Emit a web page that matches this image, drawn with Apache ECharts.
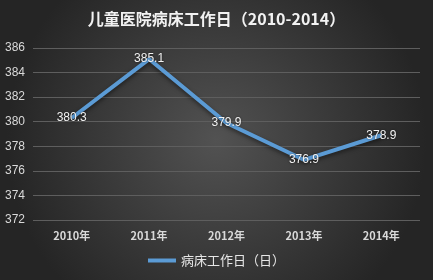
<!DOCTYPE html>
<html><head><meta charset="utf-8">
<script src="https://cdn.jsdelivr.net/npm/echarts@6/dist/echarts.min.js"></script>
<style>html,body{margin:0;padding:0;}#c{width:433px;height:280px;}</style>
</head><body><div id="c"></div>
<script>
const categories = ['2010年','2011年','2012年','2013年','2014年'];
const values = [380.3, 385.1, 379.9, 376.9, 378.9];
const seriesName = '病床工作日（日）';
const titleText = '儿童医院病床工作日（2010-2014）';
const chart = echarts.init(document.getElementById('c'));
chart.setOption({
  backgroundColor: {type:'radial', x:0.5, y:0.5, r:0.75, colorStops:[{offset:0,color:'#525252'},{offset:1,color:'#252525'}]},
  title: {text: titleText, left:'center', top:6, textStyle:{color:'#f2f2f2', fontSize:16, fontWeight:'bold', fontFamily:'Noto Sans CJK SC'}},
  grid: {left:33, right:13, top:48, bottom:60},
  xAxis: {type:'category', data:categories, boundaryGap:true,
    axisLine:{show:false}, axisTick:{show:false},
    axisLabel:{color:'#d9d9d9', fontSize:11, fontWeight:'bold', fontFamily:'Noto Sans CJK SC', margin:10}},
  yAxis: {type:'value', min:372, max:386, interval:2,
    axisLine:{show:false}, axisTick:{show:false},
    splitLine:{lineStyle:{color:'#5e5e5e', width:1}},
    axisLabel:{color:'#d9d9d9', fontSize:12, fontFamily:'Liberation Sans', margin:8}},
  legend: {bottom:8, left:'center', itemWidth:28, itemHeight:4, icon:'rect',
    textStyle:{color:'#e6e6e6', fontSize:13, fontFamily:'Noto Sans CJK SC'}},
  series: [{name:seriesName, type:'line', data:values, symbol:'circle', symbolSize:0.1, showSymbol:true,
    lineStyle:{color:'#5b9bd5', width:4, shadowColor:'rgba(0,0,0,0.5)', shadowBlur:4, shadowOffsetY:2},
    itemStyle:{color:'#5b9bd5'},
    label:{show:true, position:'inside', color:'#f2f2f2', fontSize:12, fontFamily:'Liberation Sans',
      textShadowColor:'rgba(0,0,0,0.6)', textShadowBlur:2}}]
});
</script></body></html>
